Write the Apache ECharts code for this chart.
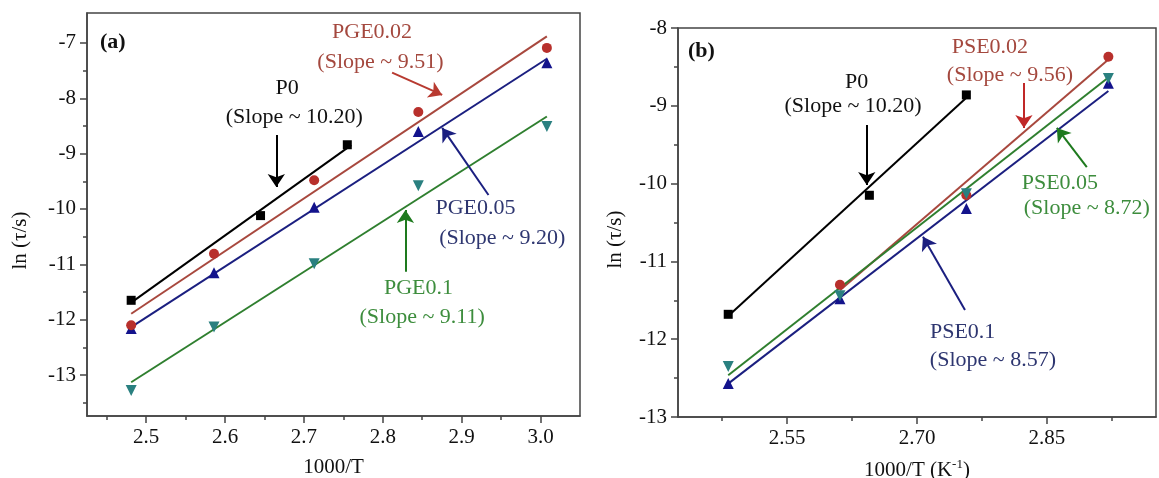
<!DOCTYPE html>
<html>
<head>
<meta charset="utf-8">
<script src="https://cdn.jsdelivr.net/npm/echarts@6/dist/echarts.min.js"></script>
<style>
  html, body { margin: 0; padding: 0; background: #fff; }
  #chart { width: 1159px; height: 478px; }
</style>
</head>
<body>
<div id="chart"></div>
<script>
// ---- Panel (a): PGE composites ----
const xA = [2.481, 2.586, 2.713, 2.845, 3.008];          // 1000/T
const xA_P0 = [2.481, 2.645, 2.755];
const lnA_P0 = [-11.65, -10.12, -8.84];
const lnA_PGE002 = [-12.10, -10.81, -9.48, -8.25, -7.09];
const lnA_PGE005 = [-12.16, -11.15, -9.97, -8.60, -7.36];
const lnA_PGE01 = [-13.28, -12.13, -10.99, -9.58, -8.51];

// ---- Panel (b): PSE composites ----
const xB = [2.482, 2.611, 2.757, 2.921];
const xB_P0 = [2.482, 2.645, 2.757];
const lnB_P0 = [-11.68, -10.15, -8.86];
const lnB_PSE002 = [null, -11.30, -10.15, -8.37];
const lnB_PSE005 = [-12.35, -11.44, -10.13, -8.65];
const lnB_PSE01 = [-12.57, -11.48, -10.32, -8.71];

// Arrhenius fits: slope, a point on the fitted line, and the 1000/T span it covers
const slopesA = [10.20, 9.51, 9.20, 9.11];
const fitPointA = [[2.62, -10.275], [2.7445, -9.387], [2.7445, -9.711], [2.7445, -10.73]];
const fitSpanA = [[2.481, 2.76], [2.481, 3.008], [2.481, 3.008], [2.481, 3.008]];
const slopesB = [10.20, 9.56, 8.72, 8.57];
const fitPointB = [[2.6195, -10.30], [2.766, -9.888], [2.7015, -10.55], [2.7015, -10.69]];
const fitSpanB = [[2.482, 2.757], [2.611, 2.921], [2.482, 2.921], [2.482, 2.921]];

// Tick values
const xTicksA = [2.5, 2.6, 2.7, 2.8, 2.9, 3.0];
const xMinorA = [2.45, 2.55, 2.65, 2.75, 2.85, 2.95];
const yTicksA = [-13, -12, -11, -10, -9, -8, -7];
const yMinorA = [-13.5, -12.5, -11.5, -10.5, -9.5, -8.5, -7.5];
const xTicksB = [2.55, 2.70, 2.85];
const xMinorB = [2.475, 2.625, 2.775, 2.925];
const yTicksB = [-13, -12, -11, -10, -9, -8];
const yMinorB = [-12.5, -11.5, -10.5, -9.5, -8.5];

const FONT = '"Liberation Serif", "Times New Roman", serif';
const AXIS = '#444';
const C = {
  black: '#000000',
  redLine: '#a8483e', redMark: '#b8302c', redText: '#a4483e',
  navyLine: '#1b1f80', navyMark: '#13138c', navyText: '#2e3670',
  greenLine: '#2f7f2f', greenMark: '#2a8080', greenText: '#3d8d3d'
};

const zip = (xs, ys) => xs.map((x, i) => [x, ys[i]]).filter(p => p[1] !== null);

function fitLine(slope, pt, span) {
  return span.map(x => [x, pt[1] + slope * (x - pt[0])]);
}

function textMarks(items, color) {
  return {
    symbol: 'rect', symbolSize: 1, silent: true, animation: false,
    itemStyle: { color: 'rgba(0,0,0,0)' },
    data: items.map(it => ({
      coord: it.at,
      label: {
        show: true, position: 'inside', formatter: it.text,
        color: color, fontSize: 22, fontFamily: FONT
      }
    }))
  };
}

function arrow(from, to, color) {
  return {
    silent: true, animation: false,
    symbol: ['none', 'arrow'], symbolSize: 13,
    label: { show: false },
    lineStyle: { type: 'solid', width: 2, color: color },
    data: [[{ coord: from }, { coord: to }]]
  };
}

function fitSeries(idx, data, color, marks, arr) {
  return {
    type: 'line', xAxisIndex: idx, yAxisIndex: idx, data: data,
    symbol: 'none', lineStyle: { color: color, width: 2 }, z: 2,
    animation: false, silent: true,
    markPoint: marks, markLine: arr
  };
}

function scatter(idx, data, symbol, size, color) {
  return {
    type: 'scatter', xAxisIndex: idx, yAxisIndex: idx, data: data,
    symbol: symbol, symbolSize: size, itemStyle: { color: color, opacity: 1 },
    z: 3, animation: false, silent: true
  };
}

const labelStyle = { color: '#111', fontSize: 21, fontFamily: FONT };

function xAxes(grid, min, max, ticks, minor, fmt, name) {
  return [
    {
      gridIndex: grid, type: 'value', min: min, max: max, position: 'bottom',
      axisLine: { show: true, lineStyle: { color: AXIS, width: 1.5 } },
      axisTick: { show: true, customValues: ticks, length: 7, lineStyle: { color: AXIS, width: 1.5 } },
      axisLabel: Object.assign({ customValues: ticks, margin: 11, formatter: fmt }, labelStyle),
      splitLine: { show: false },
      name: name, nameLocation: 'middle', nameGap: 41,
      nameTextStyle: { color: '#111', fontSize: 21, fontFamily: FONT,
        rich: { sup: { fontSize: 13, fontFamily: FONT, color: '#111', padding: [0, 0, 12, 0] } } }
    },
    {
      gridIndex: grid, type: 'value', min: min, max: max, position: 'bottom',
      axisLine: { show: false },
      axisTick: { show: true, customValues: minor, length: 4, lineStyle: { color: AXIS, width: 1.5 } },
      axisLabel: { show: false }, splitLine: { show: false }
    }
  ];
}

function yAxes(grid, min, max, ticks, minor, gap, shift) {
  return [
    {
      gridIndex: grid, type: 'value', min: min, max: max, position: 'left',
      axisLine: { show: true, lineStyle: { color: AXIS, width: 1.5 } },
      axisTick: { show: true, customValues: ticks, length: 7, lineStyle: { color: AXIS, width: 1.5 } },
      axisLabel: Object.assign({ customValues: ticks, margin: 11, formatter: v => String(Math.round(v)) }, labelStyle),
      splitLine: { show: false },
      name: 'ln (τ/s)', nameLocation: 'middle', nameGap: gap,
      nameTextStyle: { color: '#111', fontSize: 21, fontFamily: FONT, padding: [0, shift, 0, 0] }
    },
    {
      gridIndex: grid, type: 'value', min: min, max: max, position: 'left',
      axisLine: { show: false },
      axisTick: { show: true, customValues: minor, length: 4, lineStyle: { color: AXIS, width: 1.5 } },
      axisLabel: { show: false }, splitLine: { show: false }
    }
  ];
}

// axes order: [0] panel a main, [1] panel a minor, [2] panel b main, [3] panel b minor
const xAxis = [
  ...xAxes(0, 2.425, 3.05, xTicksA, xMinorA, v => v.toFixed(1), '1000/T'),
  ...xAxes(1, 2.424, 2.976, xTicksB, xMinorB, v => v.toFixed(2), '1000/T (K{sup|-1})')
];
const yAxis = [
  ...yAxes(0, -13.74, -6.46, yTicksA, yMinorA, 56, 52),
  ...yAxes(1, -13, -8, yTicksB, yMinorB, 52, 34)
];

const series = [
  // panel (a) fits with annotations
  fitSeries(0, fitLine(slopesA[0], fitPointA[0], fitSpanA[0]), C.black,
    textMarks([{ at: [2.6786, -7.813], text: 'P0' }, { at: [2.6878, -8.337], text: '(Slope ~ 10.20)' }], '#111'),
    arrow([2.665, -8.663], [2.665, -9.603], C.black)),
  fitSeries(0, fitLine(slopesA[1], fitPointA[1], fitSpanA[1]), C.redLine,
    textMarks([{ at: [2.7864, -6.80], text: 'PGE0.02' }, { at: [2.797, -7.343], text: '(Slope ~ 9.51)' }], C.redText),
    arrow([2.8118, -7.537], [2.8753, -7.94], '#b83a30')),
  fitSeries(0, fitLine(slopesA[2], fitPointA[2], fitSpanA[2]), C.navyLine,
    textMarks([{ at: [2.9175, -9.982], text: 'PGE0.05' }, { at: [2.9514, -10.524], text: '(Slope ~ 9.20)' }], C.navyText),
    arrow([2.934, -9.747], [2.8753, -8.536], C.navyLine)),
  fitSeries(0, fitLine(slopesA[3], fitPointA[3], fitSpanA[3]), C.greenLine,
    textMarks([{ at: [2.8452, -11.428], text: 'PGE0.1' }, { at: [2.8499, -11.952], text: '(Slope ~ 9.11)' }], C.greenText),
    arrow([2.8287, -11.133], [2.8287, -10.018], '#1e7a1e')),
  scatter(0, zip(xA, lnA_PGE01), 'triangle', 11, C.greenMark),
  scatter(0, zip(xA, lnA_PGE005), 'triangle', 11, C.navyMark),
  scatter(0, zip(xA, lnA_PGE002), 'circle', 10, C.redMark),
  scatter(0, zip(xA_P0, lnA_P0), 'rect', 9, C.black),

  // panel (b)
  fitSeries(2, fitLine(slopesB[0], fitPointB[0], fitSpanB[0]), C.black,
    textMarks([{ at: [2.6304, -8.694], text: 'P0' }, { at: [2.6262, -9.003], text: '(Slope ~ 10.20)' }], '#111'),
    arrow([2.642, -9.247], [2.642, -10.018], C.black)),
  fitSeries(2, fitLine(slopesB[1], fitPointB[1], fitSpanB[1]), C.redLine,
    textMarks([{ at: [2.7842, -8.244], text: 'PSE0.02' }, { at: [2.8073, -8.604], text: '(Slope ~ 9.56)' }], C.redText),
    arrow([2.8235, -8.707], [2.8235, -9.285], '#c02828')),
  fitSeries(2, fitLine(slopesB[2], fitPointB[2], fitSpanB[2]), C.greenLine,
    textMarks([{ at: [2.865, -9.992], text: 'PSE0.05' }, { at: [2.8961, -10.314], text: '(Slope ~ 8.72)' }], C.greenText),
    arrow([2.8961, -9.787], [2.8615, -9.285], '#1e7a1e')),
  fitSeries(2, fitLine(slopesB[3], fitPointB[3], fitSpanB[3]), C.navyLine,
    textMarks([{ at: [2.7527, -11.904], text: 'PSE0.1' }, { at: [2.7877, -12.267], text: '(Slope ~ 8.57)' }], C.navyText),
    arrow([2.7554, -11.625], [2.7069, -10.683], C.navyLine)),
  scatter(2, zip(xB, lnB_PSE002), 'circle', 10, C.redMark),
  scatter(2, zip(xB, lnB_PSE01), 'triangle', 11, C.navyMark),
  scatter(2, zip(xB, lnB_PSE005), 'triangle', 11, C.greenMark),
  scatter(2, zip(xB_P0, lnB_P0), 'rect', 9, C.black)
];

// downward-pointing triangles for the teal markers
series.forEach(s => {
  if (s.type === 'scatter' && s.itemStyle.color === C.greenMark) s.symbolRotate = 180;
});

const chart = echarts.init(document.getElementById('chart'), null, { renderer: 'canvas' });
chart.setOption({
  backgroundColor: '#fff',
  animation: false,
  grid: [
    { left: 87, top: 13, right: 579, bottom: 62, show: true, borderColor: AXIS, borderWidth: 1.5,
      backgroundColor: 'transparent', containLabel: false, outerBoundsMode: 'none' },
    { left: 678, top: 28, right: 3, bottom: 61, show: true, borderColor: AXIS, borderWidth: 1.5,
      backgroundColor: 'transparent', containLabel: false, outerBoundsMode: 'none' }
  ],
  xAxis: xAxis,
  yAxis: yAxis,
  series: series,
  graphic: [
    { type: 'text', left: 100, top: 31, style: { text: '(a)', font: 'bold 22px ' + FONT, fill: '#111' } },
    { type: 'text', left: 688, top: 40, style: { text: '(b)', font: 'bold 22px ' + FONT, fill: '#111' } }
  ]
});
</script>
</body>
</html>
